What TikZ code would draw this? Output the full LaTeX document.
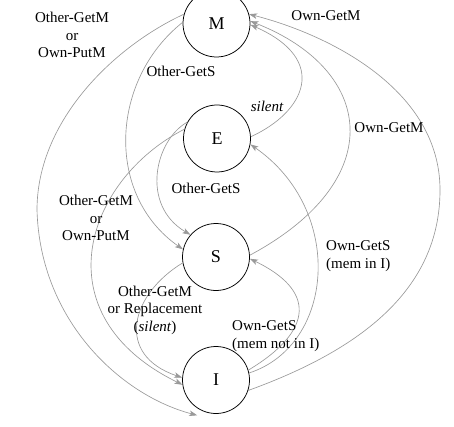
\documentclass[tikz,border=0pt]{standalone}
\usepackage{fontspec}
\setmainfont{Liberation Serif}
\usetikzlibrary{arrows.meta,calc}
\begin{document}
\begin{tikzpicture}[x=1pt,y=-1pt,
  state/.style={circle,draw,line width=0.75pt,minimum size=67pt,inner sep=0pt,font=\fontsize{18}{20}\selectfont},
  trans/.style={draw=black!40,line width=0.65pt,-{Stealth[length=8pt,width=5.5pt,inset=2pt]}},
  lbl/.style={font=\fontsize{15}{17.5}\selectfont,align=center,inner sep=0pt},
]
\useasboundingbox (0,0) rectangle (454,427);

\node[state] (M) at (216.5,23.5) {M};
\node[state] (E) at (217,138.5) {E};
\node[state] (S) at (216,257) {S};
\node[state] (I) at (216,380) {I};

% left side
\draw[trans] (M.164) .. controls (115,46) and (37,120) .. (37,210)
                     .. controls (40,320) and (120,395) .. ($(I.center)+(242:40pt)$);
\draw[trans] (M.178) .. controls (110,80) and (105,195) .. (S.167);
\draw[trans] (E.151) .. controls (155,140) and (140,205) .. (S.139);
\draw[trans] (E.164) .. controls (85,180) and (40,315) .. (I.188);
\draw[trans] (S.190) .. controls (130,295) and (115,355) .. (I.176);

% right side
\draw[trans] (E.3) .. controls (305,112) and (330,60) .. (M.-2);
\draw[trans] (S.3) .. controls (390,180) and (375,70) .. (M.4);
\draw[trans] (I.-18) .. controls (360,350) and (440,290) .. (440,190)
                     .. controls (440,90) and (330,35) .. (M.16);
\draw[trans] (I.12) .. controls (335,345) and (345,210) .. (E.-10);
\draw[trans] (I.17) .. controls (315,330) and (315,290) .. (S.-3);

% labels
\node[lbl] (l1) at (72,35) {Other-GetM\\or\\Own-PutM};
\node[lbl] (l2) at (181,71) {Other-GetS};
\node[lbl] (l3) at (326,16) {Own-GetM};
\node[lbl] (l4) at (267,106) {\itshape silent};
\node[lbl] (l5) at (389,128) {Own-GetM};
\node[lbl] (l6) at (206,188) {Other-GetS};
\node[lbl] (l7) at (96,218) {Other-GetM\\or\\Own-PutM};
\node[lbl,anchor=west,align=left] (l8) at (326,256) {Own-GetS\\(mem in I)};
\node[lbl] (l9) at (155,310) {Other-GetM\\or Replacement\\(\textit{silent})};
\node[lbl,anchor=west,align=left] (l10) at (232,336) {Own-GetS\\(mem not in I)};
\end{tikzpicture}
\end{document}
